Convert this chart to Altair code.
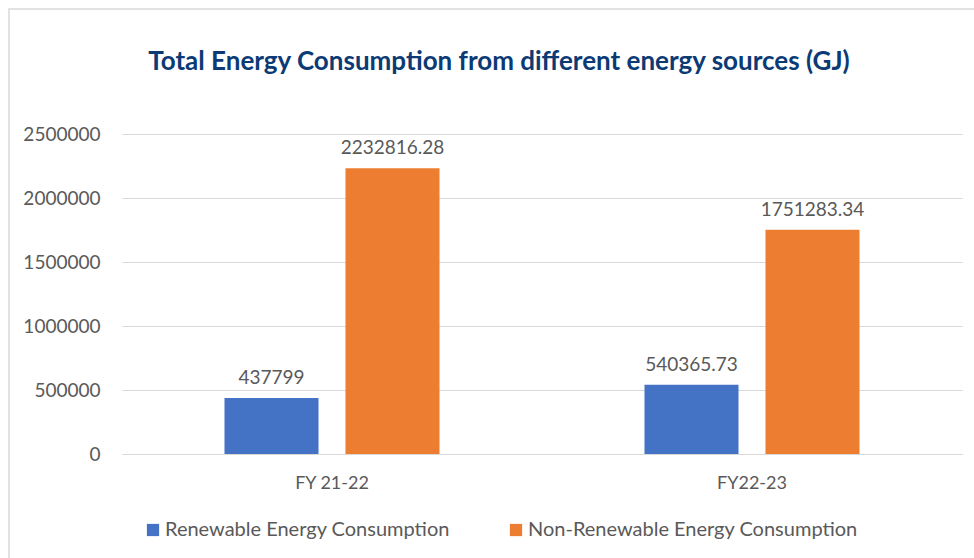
import altair as alt
import pandas as pd

years = ["FY 21-22", "FY22-23"]
series = ["Renewable Energy Consumption", "Non-Renewable Energy Consumption"]
renewable = [437799, 540365.73]
non_renewable = [2232816.28, 1751283.34]
colors = ["#4472C4", "#ED7D31"]

rows = []
for i, y in enumerate(years):
    for s, vals in zip(series, [renewable, non_renewable]):
        v = vals[i]
        rows.append({"year": y, "series": s, "value": v, "label": str(v)})
df = pd.DataFrame(rows)

FONT = "Lato"
GRAY = "#595959"

x = alt.X("year:N", sort=years, title=None,
          scale=alt.Scale(paddingInner=0, paddingOuter=0),
          axis=alt.Axis(labelAngle=0, ticks=False, domain=True, domainColor="#D9D9D9",
                        labelFont=FONT, labelFontSize=18, labelColor=GRAY, labelPadding=20, grid=False))
xo = alt.XOffset("series:N", sort=series,
                 scale=alt.Scale(paddingInner=0.223, paddingOuter=0.847))
y = alt.Y("value:Q", title=None,
          scale=alt.Scale(domain=[0, 2500000], nice=False),
          axis=alt.Axis(values=[0, 500000, 1000000, 1500000, 2000000, 2500000], format="d",
                        domain=False, ticks=False, labelFont=FONT, labelFontSize=19,
                        labelColor=GRAY, labelPadding=22, gridColor="#D9D9D9"))

color = alt.Color("series:N", sort=series, title=None,
                  scale=alt.Scale(domain=series, range=colors),
                  legend=alt.Legend(orient="none", legendX=21, legendY=386, direction="horizontal",
                                    symbolType="square", symbolSize=150, symbolStrokeWidth=0,
                                    labelFont=FONT, labelFontSize=20, labelColor=GRAY,
                                    labelLimit=0, columnPadding=56, labelOffset=2))

base = alt.Chart(df).encode(x=x, xOffset=xo, y=y)
bars = base.mark_bar().encode(color=color)
text = base.mark_text(baseline="bottom", dy=-10, font=FONT, fontSize=19, color=GRAY).encode(text="label:N")

frame = alt.Chart(pd.DataFrame({"f": [0]})).mark_rect(
    fill=None, stroke="#D9D9D9", strokeWidth=1.5
).encode(x=alt.value(-113), x2=alt.value(870), y=alt.value(-125), y2=alt.value(440))

chart = alt.layer(frame, bars, text).properties(
    width=840, height=320,
    title=alt.TitleParams("Total Energy Consumption from different energy sources (GJ)",
                          font=FONT, fontSize=26, fontWeight="bold", color="#0B3A75",
                          anchor="middle", frame="group", offset=-67, dx=-43),
    padding={"left": 122, "top": 134, "right": 12, "bottom": 104},
    autosize=alt.AutoSizeParams(type="none"),
    background="white",
).configure_view(strokeWidth=0)

chart.save("out.html", embed_options={"renderer": "svg", "actions": False})
